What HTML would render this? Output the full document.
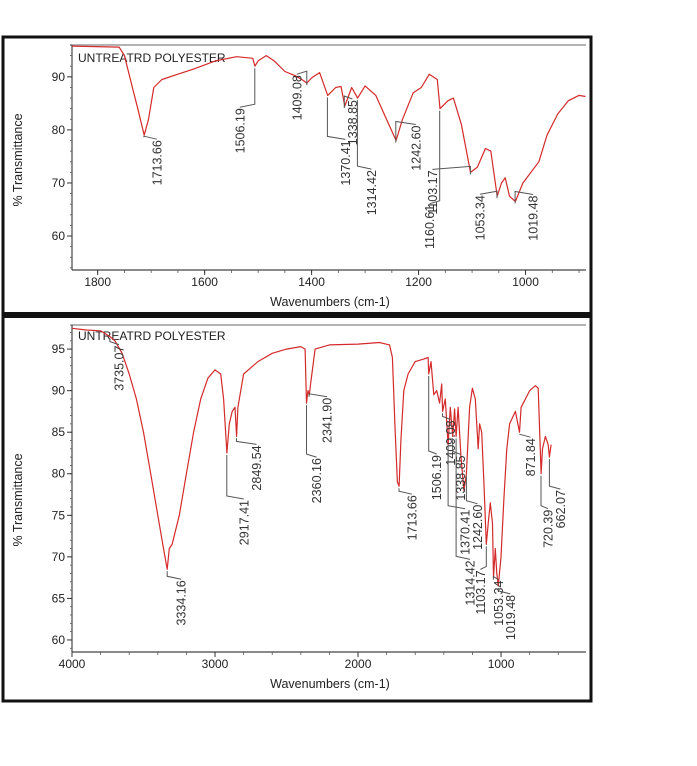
<!DOCTYPE html>
<html><head><meta charset="utf-8"><style>
html,body{margin:0;padding:0;background:#fff;}
svg{display:block;font-family:"Liberation Sans",sans-serif;}
</style></head><body>
<svg id="chart" width="697" height="766" viewBox="0 0 697 766" xmlns="http://www.w3.org/2000/svg">
<rect x="0" y="0" width="697" height="766" fill="#fff"/>
<rect x="3" y="37" width="588" height="664" fill="none" stroke="#111" stroke-width="3"/>
<rect x="3" y="312" width="588" height="6" fill="#111"/>
<g id="top"></g>
<g id="bot"></g>
</svg>
<script>
// ---- data: top panel (1850-888 cm-1) ----
const topWn = [1848,1760,1750,1735,1725,1713,1705,1695,1680,1650,1620,1580,1540,1510,1506,1500,1485,1470,1450,1430,1415,1409,1400,1385,1370,1355,1345,1338,1325,1314,1300,1280,1260,1242,1230,1210,1195,1180,1165,1160,1145,1135,1120,1103,1090,1075,1065,1053,1045,1038,1030,1019,1005,990,975,960,940,920,900,888];
const topT  = [95.8,95.6,94,88,84,79,82,88,89.5,90.5,91.5,93,93.8,93.5,92,93,94,93,91,90.2,89.3,88.8,89.8,90.8,86.5,88,88.2,84.5,88,86,88.3,86.5,82,78,82,87,88,90.5,89.5,84,85.5,86,81,72,73,76.5,76,67.5,70,71,67.5,66.5,70,72,74,79,83,85.5,86.5,86.3];
const topXTicks = [1800,1600,1400,1200,1000];
const topYTicks = [60,70,80,90];
const topPeaks = ["1713.66","1506.19","1409.08","1370.41","1338.85","1314.42","1242.60","1160.61","1103.17","1053.34","1019.48"];
const topPeakWn = [1713.66,1506.19,1409.08,1370.41,1338.85,1314.42,1242.60,1160.61,1103.17,1053.34,1019.48];
const topPeakT = [79,92,88.8,86.5,84.5,86,78,84,72,67.5,66.5];
// ---- data: bottom panel (4000-400 cm-1) ----
const botWn = [4000,3900,3800,3735,3700,3650,3600,3550,3500,3450,3400,3360,3334,3320,3300,3250,3200,3150,3100,3050,3000,2960,2940,2917,2900,2880,2860,2849,2840,2800,2700,2600,2500,2400,2370,2360,2350,2341,2330,2300,2200,2000,1850,1780,1760,1740,1725,1713,1700,1680,1650,1600,1540,1510,1506,1490,1470,1450,1430,1415,1409,1390,1370,1355,1338,1325,1314,1300,1280,1260,1242,1220,1200,1180,1160,1150,1135,1120,1103,1090,1075,1060,1053,1040,1030,1019,1000,980,960,940,900,871,860,800,760,740,720,710,690,670,662,650];
const botT  = [97.5,97.3,97.2,96.5,96,94.5,92,89,85,80,75,71,68.5,71,71.5,75,80,85,89,91.5,92.5,92,89,82.5,86,87.5,88,84.5,88,92,93.5,94.5,95,95.3,95,88.5,90,89.5,91,95,95.5,95.6,95.8,95.5,94,85,79,78.5,84,90,92,93.5,93.8,94,92,93.5,89.5,90,88.5,90.8,87.5,89,83.5,88,84.5,87.8,84.5,88,82,78,80,88,90.3,89,83,86,85,79,71.5,74,76.5,74,67.5,71,68,66.5,70,77,83,86,87.5,85,88,90,90.6,90.3,80,83,84.5,83.5,82,83.5];
const botXTicks = [4000,3000,2000,1000];
const botYTicks = [60,65,70,75,80,85,90,95];
const botPeaks = ["3735.07","3334.16","2917.41","2849.54","2360.16","2341.90","1713.66","1506.19","1409.08","1370.41","1338.85","1314.42","1242.60","1103.17","1053.34","1019.48","871.84","720.39","662.07"];
const botPeakWn = [3735.07,3334.16,2917.41,2849.54,2360.16,2341.90,1713.66,1506.19,1409.08,1370.41,1338.85,1314.42,1242.60,1103.17,1053.34,1019.48,871.84,720.39,662.07];
const botPeakT = [96.5,68.5,82.5,84.5,88.5,89.5,78.5,92,87.5,83.5,84.5,84.5,80,71.5,67.5,66.5,85,80,82];

// layout (offsets of label from peak, pixels)
const topLabelOff = [[13,5],[-15,42],[-10,-8],[18,45],[8,-6],[14,72],[20,-15],[-10,96],[-38,-2],[-17,-1],[18,-6]];
const botLabelOff = [[9,9],[14,11],[17,47],[20,9],[10,55],[18,3],[13,9],[8,81],[8,9],[17,65],[8,19],[14,124],[11,31],[-6,26],[5,3],[12,9],[11,6],[7,36],[11,33]];

const NS = "http://www.w3.org/2000/svg";
function mk(parent, tag, attrs){const e=document.createElementNS(NS,tag);for(const k in attrs)e.setAttribute(k,attrs[k]);parent.appendChild(e);return e;}

function panel(g, cfg){
  const {L,R,T,B,xMax,xMin,yMax,yMin,wn,tr,xt,yt,pk,pkWn,pkT,off,titleY,xlabY,ylabY,minorX,minorY} = cfg;
  const xs = v => L + (xMax - v)/(xMax - xMin)*(R - L);
  const ys = v => T + (yMax - v)/(yMax - yMin)*(B - T);
  const top = mk(g,'line',{x1:L-2,y1:T,x2:R,y2:T,stroke:'#9a9a9a','stroke-width':1.5});
  
  
  const ya = mk(g,'line',{x1:L,y1:T,x2:L,y2:B,stroke:'#222','stroke-width':1});
  
  
  const xa = mk(g,'line',{x1:L,y1:B,x2:R,y2:B,stroke:'#444','stroke-width':1.2});
  
  
  // minor ticks
  for(let v=Math.ceil(yMin/minorY)*minorY; v<=yMax; v+=minorY){
    const t=mk(g,'line',{x1:L-2,y1:ys(v),x2:L,y2:ys(v),stroke:'#555','stroke-width':0.8});
    
    
  }
  for(let v=Math.ceil(xMin/minorX)*minorX; v<=xMax; v+=minorX){
    const t=mk(g,'line',{x1:xs(v),y1:B,x2:xs(v),y2:B+3,stroke:'#555','stroke-width':0.8});
    
    
  }
  xt.forEach(v=>{
    const t=mk(g,'line',{x1:xs(v),y1:B,x2:xs(v),y2:B+5,stroke:'#333','stroke-width':1});
    
    
    const l=mk(g,'text',{x:xs(v),y:B+16,'text-anchor':'middle','font-size':12,fill:'#222'});
    l.textContent=v;
    
    
  });
  yt.forEach(v=>{
    const t=mk(g,'line',{x1:L-5,y1:ys(v),x2:L,y2:ys(v),stroke:'#333','stroke-width':1});
    
    
    const l=mk(g,'text',{x:L-7,y:ys(v)+4,'text-anchor':'end','font-size':12,fill:'#222'});
    l.textContent=v;
    
    
  });
  const xl=mk(g,'text',{x:330,y:xlabY,'text-anchor':'middle','font-size':12.5,fill:'#222'});
  xl.textContent='Wavenumbers (cm-1)';
  
  
  const yl=mk(g,'text',{x:0,y:0,transform:`translate(22,${ylabY}) rotate(-90)`,'text-anchor':'middle','font-size':12.5,fill:'#222'});
  yl.textContent='% Transmittance';
  
  
  const tt=mk(g,'text',{x:L+6,y:titleY,'font-size':12,fill:'#222'});
  tt.textContent='UNTREATRD POLYESTER';
  
  
  // spectrum
  let d='';
  wn.forEach((w,i)=>{const x=Math.max(L,Math.min(R,xs(w)));d+=(i?'L':'M')+x.toFixed(1)+','+ys(tr[i]).toFixed(1);});
  const p=mk(g,'path',{d:d,fill:'none',stroke:'#d42a2a','stroke-width':1.2,'stroke-linejoin':'round'});
  
  
  // peak labels
  pk.forEach((txt,i)=>{
    const px=xs(pkWn[i]), py=ys(pkT[i]);
    const lx=px+off[i][0], ly=py+off[i][1];
    const ln=mk(g,'polyline',{points:`${px.toFixed(1)},${(py+2).toFixed(1)} ${px.toFixed(1)},${(ly-4).toFixed(1)} ${lx.toFixed(1)},${(ly-1).toFixed(1)}`,fill:'none',stroke:'#555','stroke-width':1});
    
    
    const t=mk(g,'text',{x:0,y:0,transform:`translate(${(lx+4.5).toFixed(1)},${ly.toFixed(1)}) rotate(-90)`,'text-anchor':'end','font-size':12.5,fill:'#333'});
    t.textContent=txt;
    
    
  });
}
panel(document.getElementById('top'),{L:72,R:586,T:45,B:270,xMax:1848,xMin:887,yMax:96,yMin:53.6,wn:topWn,tr:topT,xt:topXTicks,yt:topYTicks,pk:topPeaks,pkWn:topPeakWn,pkT:topPeakT,off:topLabelOff,titleY:62,xlabY:306,ylabY:160,minorX:50,minorY:2});
panel(document.getElementById('bot'),{L:72,R:586,T:325,B:652,xMax:4000,xMin:406,yMax:97.9,yMin:58.55,wn:botWn,tr:botT,xt:botXTicks,yt:botYTicks,pk:botPeaks,pkWn:botPeakWn,pkT:botPeakT,off:botLabelOff,titleY:340,xlabY:688,ylabY:500,minorX:200,minorY:1});
</script>
</body></html>
